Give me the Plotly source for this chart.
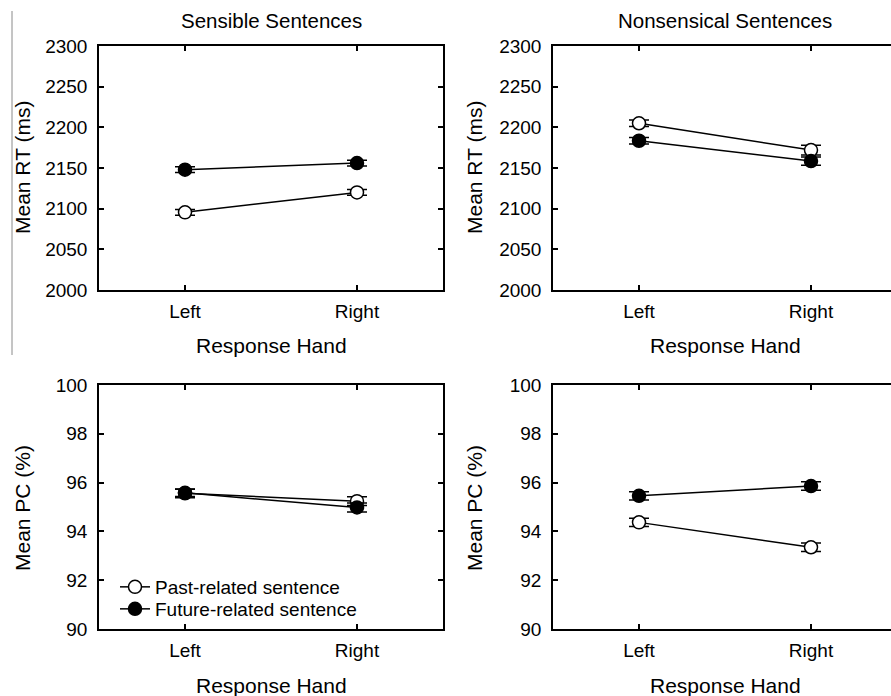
import plotly.graph_objects as go

hands = ["Left", "Right"]

# Sensible sentences
sens_rt_past = [2095.5, 2120.0]
sens_rt_future = [2148.0, 2156.0]
sens_rt_past_err = [3.5, 3.5]
sens_rt_future_err = [3.5, 3.5]
sens_pc_past = [95.56, 95.24]
sens_pc_future = [95.58, 94.98]
sens_pc_past_err = [0.18, 0.18]
sens_pc_future_err = [0.15, 0.18]

# Nonsensical sentences
non_rt_past = [2205.0, 2172.0]
non_rt_future = [2183.5, 2158.5]
non_rt_past_err = [4.0, 6.0]
non_rt_future_err = [4.0, 5.0]
non_pc_past = [94.37, 93.35]
non_pc_future = [95.46, 95.86]
non_pc_past_err = [0.17, 0.17]
non_pc_future_err = [0.17, 0.17]

series_names = ["Past-related sentence", "Future-related sentence"]
panel_titles = ["Sensible Sentences", "Nonsensical Sentences"]
rt_ticks = [2000, 2050, 2100, 2150, 2200, 2250, 2300]
pc_ticks = [90, 92, 94, 96, 98, 100]

# The reference image cuts the right-hand panels off at its right edge:
# the figure is drawn a few pixels wider than the 891 px window, which clips it.
W, H = 897, 696
FONT = "Liberation Sans, Arial, sans-serif"
FS_TICK = 19
FS_TITLE = 20.5
FS_AXT = 21

def px_x(p):
    return p / W

def px_y(p):
    return 1 - p / H

fig = go.Figure()

panels = [
    ("x", "y", sens_rt_past, sens_rt_past_err, sens_rt_future, sens_rt_future_err, False),
    ("x2", "y2", non_rt_past, non_rt_past_err, non_rt_future, non_rt_future_err, False),
    ("x3", "y3", sens_pc_past, sens_pc_past_err, sens_pc_future, sens_pc_future_err, True),
    ("x4", "y4", non_pc_past, non_pc_past_err, non_pc_future, non_pc_future_err, False),
]

for xa, ya, past, past_err, fut, fut_err, show in panels:
    fig.add_trace(go.Scatter(
        x=hands, y=past, xaxis=xa, yaxis=ya, mode="lines+markers",
        name=series_names[0], showlegend=show, legend="legend",
        line=dict(color="black", width=1.5),
        marker=dict(symbol="circle", size=13, color="white", line=dict(color="black", width=1.5)),
        error_y=dict(type="data", array=past_err, visible=True, color="black", thickness=1.5, width=10),
    ))
    fig.add_trace(go.Scatter(
        x=hands, y=fut, xaxis=xa, yaxis=ya, mode="lines+markers",
        name=series_names[1], showlegend=show, legend="legend2",
        line=dict(color="black", width=1.5),
        marker=dict(symbol="circle", size=13, color="black", line=dict(color="black", width=1.5)),
        error_y=dict(type="data", array=fut_err, visible=True, color="black", thickness=1.5, width=10),
    ))

left_dom = [px_x(99), px_x(443)]
right_dom = [px_x(553), 1.0]
top_dom = [px_y(290), px_y(46)]
bot_dom = [px_y(629), px_y(385)]

def xaxis(dom, anchor):
    return dict(domain=dom, anchor=anchor, type="category", range=[-0.5, 1.5], automargin=False,
                showline=True, linecolor="black", linewidth=1.5, mirror="ticks",
                ticks="inside", ticklen=5, tickwidth=1.5, tickcolor="black",
                showgrid=False, zeroline=False,
                tickfont=dict(family=FONT, size=FS_TICK, color="black"),
                ticklabelstandoff=3)

def yaxis(dom, rng, tv, anchor):
    return dict(domain=dom, anchor=anchor, range=rng, tickvals=tv, automargin=False,
                showline=True, linecolor="black", linewidth=1.5, mirror="ticks",
                ticks="inside", ticklen=5, tickwidth=1.5, tickcolor="black",
                showgrid=False, zeroline=False,
                tickfont=dict(family=FONT, size=FS_TICK, color="black"),
                ticklabelstandoff=6)

leg_common = dict(xanchor="left", yanchor="middle", bgcolor="rgba(0,0,0,0)",
                  font=dict(family=FONT, size=FS_TICK, color="black"),
                  itemwidth=30, tracegroupgap=0, borderwidth=0)

fig.update_layout(
    width=W, height=H,
    margin=dict(l=0, r=0, t=0, b=0, autoexpand=False),
    paper_bgcolor="white", plot_bgcolor="white",
    font=dict(family=FONT, size=FS_TICK, color="black"),
    xaxis=xaxis(left_dom, "y"),
    yaxis=yaxis(top_dom, [2000, 2300], rt_ticks, "x"),
    xaxis2=xaxis(right_dom, "y2"),
    yaxis2=yaxis(top_dom, [2000, 2300], rt_ticks, "x2"),
    xaxis3=xaxis(left_dom, "y3"),
    yaxis3=yaxis(bot_dom, [90, 100], pc_ticks, "x3"),
    xaxis4=xaxis(right_dom, "y4"),
    yaxis4=yaxis(bot_dom, [90, 100], pc_ticks, "x4"),
    legend=dict(x=px_x(115), y=px_y(587), **leg_common),
    legend2=dict(x=px_x(115), y=px_y(609), **leg_common),
    showlegend=True,
)

ann = []
ann.append(dict(text=panel_titles[0], x=px_x(271), y=px_y(21), size=FS_TITLE))
ann.append(dict(text=panel_titles[1], x=px_x(725), y=px_y(21), size=FS_TITLE))
for cx, cy in [(271, 345), (725, 345), (271, 685), (725, 685)]:
    ann.append(dict(text="Response Hand", x=px_x(cx), y=px_y(cy), size=FS_AXT))
for cx, cy, t in [(22, 168, "Mean RT (ms)"), (474, 168, "Mean RT (ms)"),
                  (22, 508, "Mean PC (%)"), (474, 508, "Mean PC (%)")]:
    ann.append(dict(text=t, x=px_x(cx), y=px_y(cy), textangle=-90, size=FS_AXT))

anns = []
for a in ann:
    s = a.pop("size")
    a.update(xref="paper", yref="paper", showarrow=False, xanchor="center", yanchor="middle",
             font=dict(family=FONT, size=s, color="black"))
    anns.append(a)
fig.update_layout(annotations=anns)

fig.add_shape(type="line", xref="paper", yref="paper",
              x0=px_x(12), x1=px_x(12), y0=px_y(11), y1=px_y(355),
              line=dict(color="#8a8a8a", width=1))

fig.write_html(
    "out.html",
    config={"displayModeBar": False},
    post_script="document.body.style.margin='0';document.body.style.padding='0';document.body.style.overflow='hidden';document.documentElement.style.overflow='hidden';",
)
